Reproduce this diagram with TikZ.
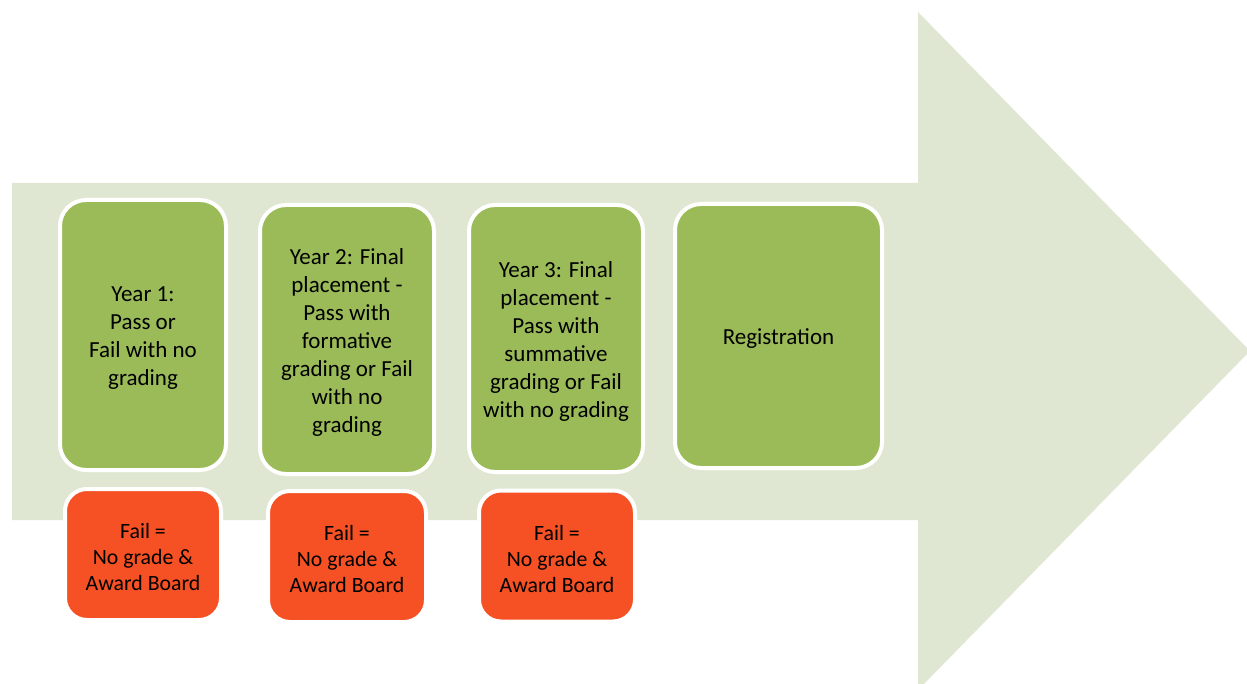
\documentclass[tikz,border=0pt]{standalone}
\usepackage{fontspec}
\setmainfont{Carlito}
\definecolor{arrowbg}{HTML}{DFE7D2}
\definecolor{boxgreen}{HTML}{9BBB59}
\definecolor{boxred}{HTML}{F65124}
\tikzset{
  greenbox/.style={draw=white, line width=4pt, fill=boxgreen, rounded corners=26pt, inner sep=0pt},
  redbox/.style={draw=white, line width=4pt, fill=boxred, rounded corners=22pt, inner sep=0pt},
  greentext/.style={align=center, inner sep=0pt, font=\fontsize{23}{28}\selectfont, text=black},
  redtext/.style={align=center, inner sep=0pt, font=\fontsize{21.8}{26}\selectfont, text=black}
}
\begin{document}
\begin{tikzpicture}[x=1pt,y=-1pt]
\useasboundingbox (0,0) rectangle (1247,684);
\fill[arrowbg] (12,183) -- (918,183) -- (918,12) -- (1250,351) -- (918,690) -- (918,520) -- (12,520) -- cycle;
\node[greenbox, minimum width=166pt, minimum height=270pt] (y1) at (143,335) {};
\node[greenbox, minimum width=174pt, minimum height=269pt] (y2) at (347,339.5) {};
\node[greenbox, minimum width=174pt, minimum height=267pt] (y3) at (556,338.5) {};
\node[greenbox, minimum width=207pt, minimum height=264pt] (reg) at (778.5,336) {};
\node[redbox, minimum width=156pt, minimum height=131pt] (f1) at (143,554.5) {};
\node[redbox, minimum width=158pt, minimum height=131pt] (f2) at (347,556.5) {};
\node[redbox, minimum width=156pt, minimum height=131pt] (f3) at (557,556) {};
\node[greentext] (y1t) at ([yshift=-3pt]y1.center) {Year 1:\\Pass or\\Fail with no\\grading};
\node[greentext] (y2t) at ([yshift=-3pt]y2.center) {Year 2: Final\\placement -\\Pass with\\formative\\grading or Fail\\with no\\grading};
\node[greentext] (y3t) at ([yshift=-3pt]y3.center) {Year 3: Final\\placement -\\Pass with\\summative\\grading or Fail\\with no grading};
\node[greentext] (regt) at ([yshift=-3pt]reg.center) {Registration};
\node[redtext] (f1t) at ([yshift=-3pt]f1.center) {Fail =\\No grade \&\\Award Board};
\node[redtext] (f2t) at ([yshift=-3pt]f2.center) {Fail =\\No grade \&\\Award Board};
\node[redtext] (f3t) at ([yshift=-3pt]f3.center) {Fail =\\No grade \&\\Award Board};
\end{tikzpicture}
\end{document}
